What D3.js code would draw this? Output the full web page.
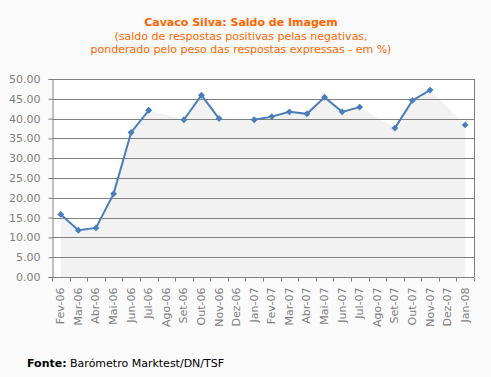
<!DOCTYPE html>
<html>
<head>
<meta charset="utf-8">
<script src="https://cdn.jsdelivr.net/npm/d3@7"></script>
<style>
  body { margin: 0; background: #fafafa; }
  svg { display: block; font-family: "DejaVu Sans", Verdana, sans-serif; }
</style>
</head>
<body>
<svg id="chart"></svg>
<script>
// Data
const months = ["Fev-06", "Mar-06", "Abr-06", "Mai-06", "Jun-06", "Jul-06", "Ago-06", "Set-06",
  "Out-06", "Nov-06", "Dez-06", "Jan-07", "Fev-07", "Mar-07", "Abr-07", "Mai-07", "Jun-07",
  "Jul-07", "Ago-07", "Set-07", "Out-07", "Nov-07", "Dez-07", "Jan-08"];
const saldo = [15.8, 11.8, 12.4, 21.0, 36.5, 42.1, null, 39.7, 45.9, 40.0, null, 39.7, 40.5,
  41.7, 41.2, 45.4, 41.7, 42.9, null, 37.6, 44.6, 47.2, null, 38.4];
const yTicks = [0, 5, 10, 15, 20, 25, 30, 35, 40, 45, 50];

const W = 491, H = 377;
const margin = { top: 79, right: 17, bottom: 100, left: 52 };
const width = W - margin.left - margin.right;
const height = H - margin.top - margin.bottom;

const svg = d3.select("#chart").attr("width", W).attr("height", H);

// Titles
const titles = svg.append("g").attr("text-anchor", "middle").attr("fill", "#ff6600");
titles.append("text").attr("x", 241).attr("y", 26)
  .attr("font-size", 11).attr("font-weight", "bold").text("Cavaco Silva: Saldo de Imagem");
titles.append("text").attr("x", 241).attr("y", 39.5)
  .attr("font-size", 11).text("(saldo de respostas positivas pelas negativas,");
titles.append("text").attr("x", 241).attr("y", 52.5)
  .attr("font-size", 11).text("ponderado pelo peso das respostas expressas - em %)");

const g = svg.append("g").attr("transform", `translate(${margin.left},${margin.top})`);

// Scales
const x = d3.scaleBand().domain(months).range([0, width]);
const y = d3.scaleLinear().domain([0, 50]).range([height, 0]);
const cx = d => x(d) + x.bandwidth() / 2;

// Plot background
g.append("rect").attr("width", width).attr("height", height).attr("fill", "#fff");

// Area (gaps bridged)
const pts = months.map((m, i) => ({ m, v: saldo[i] }));
const valid = pts.filter(d => d.v !== null);
g.append("path")
  .datum(valid)
  .attr("fill", "#f2f2f2")
  .attr("d", d3.area().x(d => cx(d.m)).y0(height).y1(d => y(d.v)));

// Grid lines
g.append("g").selectAll("line").data(yTicks.slice(1)).join("line")
  .attr("x1", 0).attr("x2", width)
  .attr("y1", d => Math.round(y(d)) + 0.5).attr("y2", d => Math.round(y(d)) + 0.5)
  .attr("stroke", "#808080");

// Right border
g.append("line").attr("x1", width + 0.5).attr("x2", width + 0.5)
  .attr("y1", 0).attr("y2", height).attr("stroke", "#808080");

// Y axis
const yAxis = g.append("g")
  .attr("transform", "translate(0.5,0)")
  .call(d3.axisLeft(y).tickValues(yTicks).tickFormat(d3.format(".2f")).tickSize(4).tickPadding(8));
yAxis.selectAll("path, line").attr("stroke", "#808080");
yAxis.selectAll("text").attr("fill", "#7f7f7f").attr("font-size", 11)
  .attr("font-family", "DejaVu Sans, sans-serif");

// X axis with ticks at category boundaries
const xAxisG = g.append("g").attr("transform", `translate(0,${height + 0.5})`);
xAxisG.append("line").attr("x1", 0).attr("x2", width).attr("stroke", "#808080");
xAxisG.selectAll(".tk").data(d3.range(months.length + 1)).join("line")
  .attr("class", "tk")
  .attr("x1", i => Math.round(i * x.step()) + 0.5).attr("x2", i => Math.round(i * x.step()) + 0.5)
  .attr("y1", 0).attr("y2", 4).attr("stroke", "#808080");
xAxisG.selectAll("text").data(months).join("text")
  .attr("transform", d => `translate(${cx(d) + 3.5},${10}) rotate(-90)`)
  .attr("text-anchor", "end")
  .attr("fill", "#7f7f7f").attr("font-size", 11)
  .text(d => d);

// Line (breaks at missing values)
g.append("path")
  .datum(pts)
  .attr("fill", "none")
  .attr("stroke", "#4a7ebb")
  .attr("stroke-width", 2)
  .attr("d", d3.line().defined(d => d.v !== null).x(d => cx(d.m)).y(d => y(d.v)));

// Diamond markers
g.selectAll(".pt").data(valid).join("path")
  .attr("class", "pt")
  .attr("d", d3.symbol().type(d3.symbolDiamond2).size(30)())
  .attr("transform", d => `translate(${cx(d.m)},${y(d.v)})`)
  .attr("fill", "#4a7ebb");

// Source
const src = svg.append("text").attr("x", 27).attr("y", 367).attr("font-size", 11).attr("fill", "#000");
src.append("tspan").attr("font-weight", "bold").text("Fonte:");
src.append("tspan").text(" Barómetro Marktest/DN/TSF");
</script>
</body>
</html>
